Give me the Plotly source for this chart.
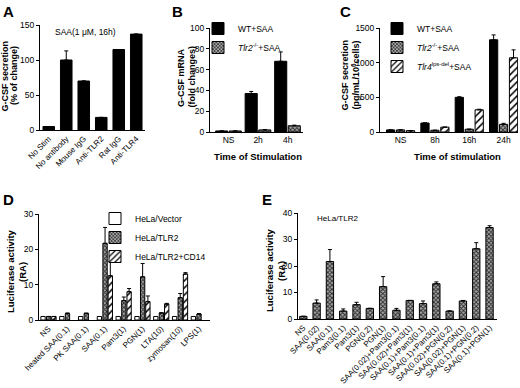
import plotly.graph_objects as go

W, H = 520, 388
FONT = "Liberation Sans, Arial, sans-serif"

# ---------------- data ----------------
a_cats = ["No Stim", "No antibody", "Mouse IgG", "Anti-TLR2", "Rat IgG", "Anti-TLR4"]
a_vals = [5, 100, 70, 18, 115, 137]
a_errs = [0, 13, 0, 0, 0, 0]

b_cats = ["NS", "2h", "4h"]
b_wt = [1, 37, 68]
b_wt_err = [0, 2, 9]
b_tlr2 = [1, 2, 6]
b_tlr2_err = [0, 0.4, 0.6]

c_cats = ["NS", "8h", "16h", "24h"]
c_wt = [30, 130, 500, 1330]
c_wt_err = [0, 0, 8, 70]
c_tlr2 = [30, 25, 40, 110]
c_tlr2_err = [0, 0, 0, 15]
c_tlr4 = [20, 70, 320, 1070]
c_tlr4_err = [0, 0, 8, 115]

d_cats = ["NS", "heated SAA(0.1)", "PK SAA(0.1)", "SAA(0.1)", "Pam3(1)",
          "PGN(1)", "LTA(10)", "zymosan(10)", "LPS(1)"]
d_vec = [1, 1, 1, 1, 1, 1, 1, 1, 1]
d_tlr2 = [1, 1.8, 1.9, 21.7, 5.5, 12.2, 2.0, 6.3, 1.7]
d_tlr2_err = [0, 0.2, 0, 4.5, 1.0, 3.8, 0, 1.2, 0.1]
d_cd14 = [1, None, None, 12.5, 8.0, 5.2, 4.5, 13.0, None]
d_cd14_err = [0, 0, 0, 4.0, 0.9, 1.6, 0.2, 0.4, 0]

e_cats = ["NS", "SAA(0.02)", "SAA(0.1)", "Pam3(0.1)", "Pam3(1)", "PGN(0.2)", "PGN(1)",
          "SAA(0.02)+Pam3(0.1)", "SAA(0.02)+Pam3(1)", "SAA(0.1)+Pam3(0.1)",
          "SAA(0.1)+Pam3(1)", "SAA(0.02)+PGN(0.2)", "SAA(0.02)+PGN(1)",
          "SAA(0.1)+PGN(0.2)", "SAA(0.1)+PGN(1)"]
e_vals = [1, 6, 21.7, 3, 5.4, 4, 12.2, 3.3, 7, 5.8, 13.3, 3, 6.8, 26.5, 34.5]
e_errs = [0, 1.2, 4.5, 0.8, 0.9, 0, 3.8, 0.7, 0, 1.0, 0.7, 0, 0.2, 2.3, 0.7]

# ---------------- styles ----------------
BLACK = dict(color="black", line=dict(color="black", width=1))
WHITE = dict(color="white", line=dict(color="black", width=1))
CHECK = dict(color="#8a8a8a", line=dict(color="black", width=1),
             pattern=dict(shape="x", size=3, solidity=0.5, fgcolor="#2a2a2a", bgcolor="#a8a8a8"))
HATCH = dict(color="white", line=dict(color="black", width=1),
             pattern=dict(shape="/", size=5, solidity=0.3, fgcolor="black", bgcolor="white"))


def err(e):
    return dict(type="data", symmetric=False, array=e, arrayminus=[0] * len(e),
                color="black", thickness=1, width=2)


def px_x(p):
    return p / W


def px_y(p):
    return 1 - p / H


fig = go.Figure()

# Panel A
fig.add_bar(x=a_cats, y=a_vals, error_y=err(a_errs), marker=BLACK, width=0.66,
            xaxis="x", yaxis="y", showlegend=False)
# Panel B
fig.add_bar(x=b_cats, y=b_wt, error_y=err(b_wt_err), marker=BLACK, width=0.41, offset=-0.44,
            xaxis="x2", yaxis="y2", name="WT+SAA", legend="legend")
fig.add_bar(x=b_cats, y=b_tlr2, error_y=err(b_tlr2_err), marker=CHECK, width=0.41, offset=0.02,
            xaxis="x2", yaxis="y2", name="<i>Tlr2</i><sup>-/-</sup>+SAA", legend="legend")
# Panel C
fig.add_bar(x=c_cats, y=c_wt, error_y=err(c_wt_err), marker=BLACK, width=0.24, offset=-0.41,
            xaxis="x3", yaxis="y3", name="WT+SAA", legend="legend2")
fig.add_bar(x=c_cats, y=c_tlr2, error_y=err(c_tlr2_err), marker=CHECK, width=0.24, offset=-0.12,
            xaxis="x3", yaxis="y3", name="<i>Tlr2</i><sup>-/-</sup>+SAA", legend="legend2")
fig.add_bar(x=c_cats, y=c_tlr4, error_y=err(c_tlr4_err), marker=HATCH, width=0.24, offset=0.17,
            xaxis="x3", yaxis="y3", name="<i>Tlr4</i><sup>lps-del</sup>+SAA", legend="legend2")
# Panel D
fig.add_bar(x=d_cats, y=d_vec, marker=WHITE, width=0.23, offset=-0.40,
            xaxis="x4", yaxis="y4", name="HeLa/Vector", legend="legend3")
fig.add_bar(x=d_cats, y=d_tlr2, error_y=err(d_tlr2_err), marker=CHECK, width=0.23, offset=-0.10,
            xaxis="x4", yaxis="y4", name="HeLa/TLR2", legend="legend3")
fig.add_bar(x=d_cats, y=d_cd14, error_y=err(d_cd14_err), marker=HATCH, width=0.23, offset=0.18,
            xaxis="x4", yaxis="y4", name="HeLa/TLR2+CD14", legend="legend3")
# Panel E
fig.add_bar(x=e_cats, y=e_vals, error_y=err(e_errs), marker=CHECK, width=0.55,
            xaxis="x5", yaxis="y5", showlegend=False)

tick = dict(family=FONT, size=8.5, color="black")
common_y = dict(showline=True, linecolor="black", linewidth=1, ticks="outside", ticklen=3,
                tickwidth=1, tickcolor="black", showgrid=False, zeroline=False, tickfont=tick,
                automargin=False)
common_x = dict(showline=True, linecolor="black", linewidth=1, ticks="", showgrid=False,
                zeroline=False, type="category", tickfont=tick, automargin=False)

LEG = dict(xanchor="left", yanchor="top", font=dict(family=FONT, size=8.5, color="black"),
           bgcolor="rgba(0,0,0,0)", traceorder="normal", borderwidth=0)

fig.update_layout(
    template="none",
    width=W, height=H, margin=dict(l=0, r=0, t=0, b=0, pad=0, autoexpand=False),
    paper_bgcolor="white", plot_bgcolor="white",
    font=dict(family=FONT, color="black"),
    barmode="group",
    xaxis=dict(common_x, domain=[px_x(40), px_x(145)], range=[-0.5, 5.5], anchor="y",
               tickangle=-45, tickfont=dict(tick, size=8)),
    yaxis=dict(common_y, domain=[px_y(130), px_y(25)], range=[0, 150], anchor="x",
               tickvals=[0, 50, 100, 150]),
    xaxis2=dict(common_x, domain=[px_x(210), px_x(303)], range=[-0.63, 2.52], anchor="y2"),
    yaxis2=dict(common_y, domain=[px_y(132), px_y(28)], range=[0, 100], anchor="x2",
                tickvals=[0, 20, 40, 60, 80, 100]),
    xaxis3=dict(common_x, domain=[px_x(380), px_x(518)], range=[-0.6, 3.42], anchor="y3"),
    yaxis3=dict(common_y, domain=[px_y(132), px_y(28)], range=[0, 1500], anchor="x3",
                tickvals=[0, 500, 1000, 1500]),
    xaxis4=dict(common_x, domain=[px_x(39), px_x(210)], range=[-0.5, 8.6], anchor="y4",
                tickangle=-45, tickfont=dict(tick, size=8)),
    yaxis4=dict(common_y, domain=[px_y(320), px_y(214)], range=[0, 30], anchor="x4",
                tickvals=[0, 10, 20, 30]),
    xaxis5=dict(common_x, domain=[px_x(298), px_x(497)], range=[-0.4, 14.56], anchor="y5",
                tickangle=-45, tickfont=dict(tick, size=8)),
    yaxis5=dict(common_y, domain=[px_y(319), px_y(213)], range=[0, 40], anchor="x5",
                tickvals=[0, 10, 20, 30, 40]),
    legend=dict(LEG, x=px_x(198), y=px_y(14)),
    legend2=dict(LEG, x=px_x(377), y=px_y(14)),
    legend3=dict(LEG, x=px_x(95), y=px_y(204)),
)

ann = []


def label(text, x, y, size=15):
    ann.append(dict(text="<b>%s</b>" % text, x=px_x(x), y=px_y(y), xref="paper", yref="paper",
                    xanchor="left", yanchor="top", showarrow=False,
                    font=dict(family=FONT, size=size, color="black")))


def vtitle(text, x, y, size=9):
    ann.append(dict(text="<b>%s</b>" % text, x=px_x(x), y=px_y(y), xref="paper", yref="paper",
                    xanchor="center", yanchor="middle", showarrow=False, textangle=-90,
                    font=dict(family=FONT, size=size, color="black")))


def htext(text, x, y, size=9.5, anchor="center"):
    ann.append(dict(text=text, x=px_x(x), y=px_y(y), xref="paper", yref="paper",
                    xanchor=anchor, yanchor="middle", showarrow=False,
                    font=dict(family=FONT, size=size, color="black")))


for t, x, y in [("A", 1, 1), ("B", 170, 1), ("C", 338, 1), ("D", 1, 189), ("E", 260, 189)]:
    label(t, x, y)

vtitle("G-CSF secretion", 4.5, 76)
vtitle("(% of change)", 14, 76)
vtitle("G-CSF mRNA", 181, 78)
vtitle("(fold changes)", 191.5, 77)
vtitle("G-CSF secretion", 344.5, 75)
vtitle("(pg/mL/10<sup>6</sup>cells)", 355.5, 75)
vtitle("Luciferase activity", 10, 271, size=9.5)
vtitle("(RA)", 22, 272, size=9.5)
vtitle("Luciferase activity", 269, 270, size=9.5)
vtitle("(RA)", 281, 271, size=9.5)

htext("<b>Time of Stimulation</b>", 258, 156)
htext("<b>Time of stimulation</b>", 457, 156)
htext("SAA(1 \u03bcM, 16h)", 53, 32, size=8.5, anchor="left")
htext("HeLa/TLR2", 315, 218, size=8, anchor="left")

fig.update_layout(annotations=ann)

fig.write_html("out.html", config={"displayModeBar": False},
               post_script="document.body.style.margin='0';document.body.style.overflow='hidden';")
